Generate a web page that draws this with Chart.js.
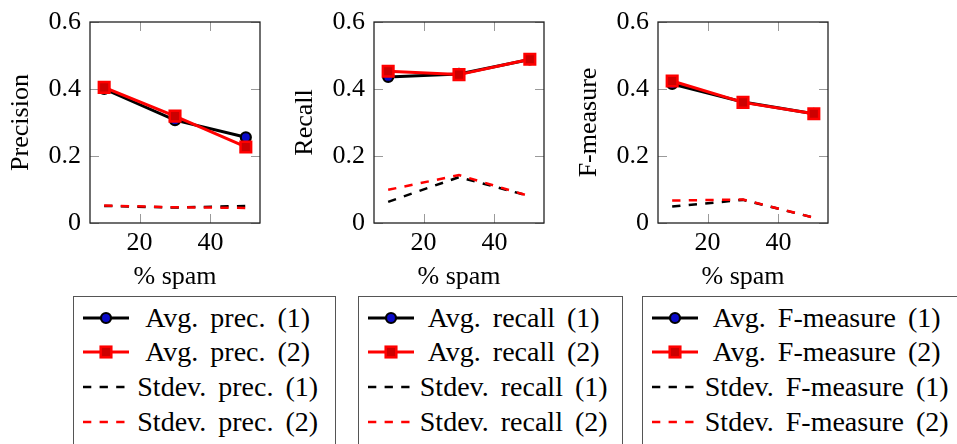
<!DOCTYPE html>
<html><head><meta charset="utf-8">
<script src="https://cdn.jsdelivr.net/npm/chart.js@4.4.1/dist/chart.umd.min.js"></script>
<style>
html,body{margin:0;padding:0;background:#fff;width:957px;height:444px;overflow:hidden;}
#wrap{position:relative;width:957px;height:444px;overflow:hidden;}
canvas{position:absolute;top:0;}
.legend{position:absolute;top:296px;height:200px;border:1.3px solid #555;box-sizing:border-box;font-family:"Liberation Serif","DejaVu Serif",serif;font-size:28px;color:#000;background:#fff;}
.row{position:absolute;left:0;right:0;height:34px;}
.row svg{position:absolute;left:8.7px;top:0;}
.txt{position:absolute;top:0;text-align:center;white-space:nowrap;word-spacing:5px;line-height:34px;}
</style></head><body><div id="wrap"></div>
<script>
// ---- data ----
const xValues = [10, 30, 50];
const xTicks = [20, 40];
const yTicks = [0, 0.2, 0.4, 0.6];
const yTickLabels = ['0', '0.2', '0.4', '0.6'];
const xTitle = '% spam';

const precAvg1 = [0.400, 0.307, 0.256];
const precAvg2 = [0.405, 0.319, 0.227];
const precStd1 = [0.051, 0.046, 0.051];
const precStd2 = [0.052, 0.047, 0.045];
const precLabels = ['Avg. prec. (1)', 'Avg. prec. (2)', 'Stdev. prec. (1)', 'Stdev. prec. (2)'];

const recAvg1 = [0.436, 0.445, 0.488];
const recAvg2 = [0.453, 0.443, 0.489];
const recStd1 = [0.063, 0.137, 0.080];
const recStd2 = [0.099, 0.143, 0.080];
const recLabels = ['Avg. recall (1)', 'Avg. recall (2)', 'Stdev. recall (1)', 'Stdev. recall (2)'];

const fAvg1 = [0.415, 0.361, 0.326];
const fAvg2 = [0.424, 0.360, 0.326];
const fStd1 = [0.049, 0.069, 0.016];
const fStd2 = [0.067, 0.070, 0.016];
const fLabels = ['Avg. F-measure (1)', 'Avg. F-measure (2)', 'Stdev. F-measure (1)', 'Stdev. F-measure (2)'];

// ---- layout / style ----
const panels = [
  {yTitle: 'Precision', series: [precAvg1, precAvg2, precStd1, precStd2], labels: precLabels, left: 0, legLeft: 73, legWidth: 263, textCenter: 155},
  {yTitle: 'Recall', series: [recAvg1, recAvg2, recStd1, recStd2], labels: recLabels, left: 284, legLeft: 358, legWidth: 265, textCenter: 156},
  {yTitle: 'F-measure', series: [fAvg1, fAvg2, fStd1, fStd2], labels: fLabels, left: 568, legLeft: 642, legWidth: 330, textCenter: 185}
];
const styles = [
  {borderColor: '#000', borderWidth: 3, pointStyle: 'circle', pointRadius: 5, pointBorderWidth: 2.2, pointBackgroundColor: '#0a0ac8', pointBorderColor: '#000', order: 4},
  {borderColor: '#ff0000', borderWidth: 3, pointStyle: 'rect', pointRadius: 7.5, pointBorderWidth: 2.5, pointBackgroundColor: '#cc0000', pointBorderColor: '#ff0000', order: 3},
  {borderColor: '#000', borderWidth: 2.5, borderDash: [8.3, 8.3], pointRadius: 0, order: 2},
  {borderColor: '#ff0000', borderWidth: 2.5, borderDash: [8.3, 8.3], pointRadius: 0, order: 1}
];
const FONT = {family: '"Liberation Serif", "DejaVu Serif", serif', size: 26, lineHeight: 1};

const framePlugin = {
  id: 'frame',
  beforeDatasetsDraw(chart) {
    const {ctx, chartArea: a, scales: {x, y}} = chart;
    ctx.save();
    ctx.strokeStyle = '#9a9a9a';
    ctx.lineWidth = 1;
    ctx.beginPath();
    xTicks.forEach(v => {
      const px = Math.round(x.getPixelForValue(v)) + 0.5;
      ctx.moveTo(px, a.bottom); ctx.lineTo(px, a.bottom - 9);
      ctx.moveTo(px, a.top); ctx.lineTo(px, a.top + 9);
    });
    yTicks.forEach(v => {
      const py = Math.round(y.getPixelForValue(v)) + 0.5;
      ctx.moveTo(a.left, py); ctx.lineTo(a.left + 9, py);
      ctx.moveTo(a.right, py); ctx.lineTo(a.right - 9, py);
    });
    ctx.stroke();
    ctx.strokeStyle = '#222';
    ctx.lineWidth = 1.3;
    ctx.strokeRect(a.left, a.top, a.right - a.left, a.bottom - a.top);
    ctx.restore();
  }
};

const wrap = document.getElementById('wrap');
const SVGNS = 'http://www.w3.org/2000/svg';

panels.forEach(p => {
  const cv = document.createElement('canvas');
  cv.width = 284; cv.height = 290;
  cv.style.left = p.left + 'px';
  cv.style.width = '284px'; cv.style.height = '290px';
  wrap.appendChild(cv);

  const datasets = p.series.map((vals, i) => Object.assign({
    label: p.labels[i],
    data: xValues.map((xv, k) => ({x: xv, y: vals[k]})),
    fill: false, tension: 0, backgroundColor: styles[i].borderColor
  }, styles[i]));

  const chart = new Chart(cv, {
    type: 'line',
    data: {datasets},
    options: {
      responsive: false, animation: false, devicePixelRatio: 1,
      layout: {padding: {top: 15, right: 24, left: 0, bottom: 0}},
      plugins: {legend: {display: false}, tooltip: {enabled: false}},
      scales: {
        x: {
          type: 'linear', min: 6, max: 54,
          afterBuildTicks: s => { s.ticks = xTicks.map(v => ({value: v})); },
          afterFit: s => { s.height = 67; },
          grid: {display: false, drawTicks: false}, border: {display: false},
          ticks: {font: FONT, color: '#000', padding: 7, maxRotation: 0, autoSkip: false},
          title: {display: true, text: xTitle, font: FONT, color: '#000', padding: 0}
        },
        y: {
          type: 'linear', min: 0, max: 0.6,
          afterBuildTicks: s => { s.ticks = yTicks.map(v => ({value: v})); },
          afterFit: s => { s.width = 90; },
          grid: {display: false, drawTicks: false}, border: {display: false},
          ticks: {font: FONT, color: '#000', padding: 9, autoSkip: false,
                  callback: (v, i) => yTickLabels[i]},
          title: {display: true, text: p.yTitle, font: FONT, color: '#000', padding: {top: 8, bottom: 0}}
        }
      }
    },
    plugins: [framePlugin]
  });

  // legend built from the chart's datasets
  const box = document.createElement('div');
  box.className = 'legend';
  box.style.left = p.legLeft + 'px';
  box.style.width = p.legWidth + 'px';
  wrap.appendChild(box);
  chart.data.datasets.forEach((ds, i) => {
    const row = document.createElement('div');
    row.className = 'row';
    row.style.top = (3.7 + 34.7 * i) + 'px';
    const svg = document.createElementNS(SVGNS, 'svg');
    svg.setAttribute('width', '60'); svg.setAttribute('height', '34');
    const ln = document.createElementNS(SVGNS, 'line');
    ln.setAttribute('x1', '0'); ln.setAttribute('x2', '46');
    ln.setAttribute('y1', '17'); ln.setAttribute('y2', '17');
    ln.setAttribute('stroke', ds.borderColor);
    ln.setAttribute('stroke-width', ds.borderWidth);
    if (ds.borderDash) ln.setAttribute('stroke-dasharray', ds.borderDash.join(' '));
    svg.appendChild(ln);
    if (ds.pointRadius > 0) {
      let m;
      if (ds.pointStyle === 'circle') {
        m = document.createElementNS(SVGNS, 'circle');
        m.setAttribute('cx', '23'); m.setAttribute('cy', '17'); m.setAttribute('r', ds.pointRadius);
      } else {
        const side = ds.pointRadius * Math.SQRT2;
        m = document.createElementNS(SVGNS, 'rect');
        m.setAttribute('x', 23 - side / 2); m.setAttribute('y', 17 - side / 2);
        m.setAttribute('width', side); m.setAttribute('height', side);
      }
      m.setAttribute('fill', ds.pointBackgroundColor);
      m.setAttribute('stroke', ds.pointBorderColor);
      m.setAttribute('stroke-width', ds.pointBorderWidth);
      svg.appendChild(m);
    }
    row.appendChild(svg);
    const t = document.createElement('div');
    t.className = 'txt';
    t.style.left = (62 - 1.3) + 'px';
    t.style.width = (2 * (p.textCenter - 62)) + 'px';
    t.textContent = ds.label;
    row.appendChild(t);
    box.appendChild(row);
  });
});
</script>
</body></html>
